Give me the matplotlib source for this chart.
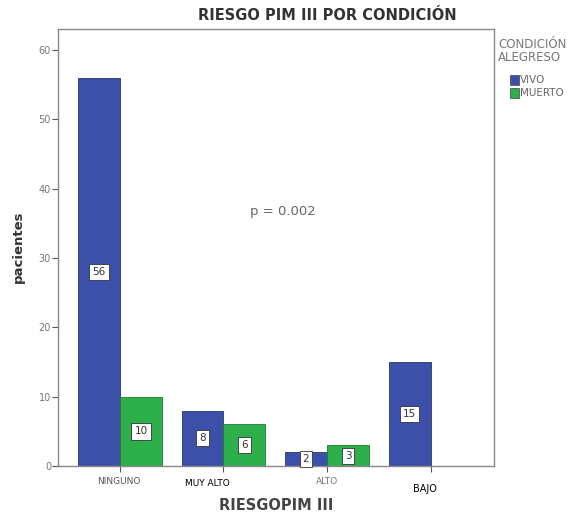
import matplotlib.pyplot as plt
import numpy as np

# patients by PIM III risk and discharge condition
categorias = ['NINGUNO', 'MUY ALTO', 'ALTO', 'BAJO']
vivo = [56, 8, 2, 15]
muerto = [10, 6, 3, 0]
ticks_y = [0, 10, 20, 30, 40, 50, 60]

azul = '#3c50aa'
verde = '#2db04b'
gris = '#555555'

fig = plt.figure(figsize=(5.81, 5.19), dpi=100)
ax = fig.add_axes([0.0998, 0.102, 0.750, 0.842])

x = np.arange(len(categorias))
w = 0.405
barras_v = ax.bar(x - w / 2, vivo, width=w, color=azul, edgecolor='#2a3570', linewidth=0.6)
barras_m = ax.bar(x + w / 2, muerto, width=w, color=verde, edgecolor='#1e7a34', linewidth=0.6)

# value boxes in the middle of each bar
for barras, vals in ((barras_v, vivo), (barras_m, muerto)):
    for b, v in zip(barras, vals):
        if v == 0:
            continue
        ax.text(b.get_x() + b.get_width() / 2, v / 2, str(v), ha='center', va='center',
                fontsize=7.5, color='#333333',
                bbox=dict(boxstyle='square,pad=0.3', fc='white', ec='#333333', lw=0.6))

ax.set_xlim(-0.598, 3.61)
ax.set_ylim(0, 63)
ax.set_yticks(ticks_y)
ax.set_yticklabels([str(t) for t in ticks_y], fontsize=7, color='#777777')
ax.tick_params(axis='y', length=4, width=0.8, color=gris, pad=1)
ax.set_xticks(x)
ax.set_xticklabels([])
ax.tick_params(axis='x', length=4, width=0.8, color=gris)
for s in ax.spines.values():
    s.set_color('#888888')
    s.set_linewidth(1.0)

# category names under the axis
fig.text(119 / 581, 1 - 481 / 519, 'NINGUNO', ha='center', va='center', fontsize=6.5, color='#555555')
fig.text(207 / 581, 1 - 484 / 519, 'MUY ALTO', ha='center', va='center', fontsize=6.5, color='black')
fig.text(327 / 581, 1 - 481 / 519, 'ALTO', ha='center', va='center', fontsize=6.5, color='#777777')
fig.text(425 / 581, 1 - 489 / 519, 'BAJO', ha='center', va='center', fontsize=7, color='black')

fig.text(276 / 581, 1 - 506 / 519, 'RIESGOPIM III', ha='center', va='center', fontsize=10.5,
         fontweight='bold', color='#444444')
fig.text(18 / 581, 1 - 247 / 519, 'pacientes', ha='center', va='center', rotation=90,
         fontsize=9.5, fontweight='bold', color='#333333')
fig.text(327 / 581, 1 - 16 / 519, 'RIESGO PIM III POR CONDICIÓN', ha='center', va='center',
         fontsize=10.5, fontweight='bold', color='#333333')

ax.text(283 / 581, 1 - 212 / 519, 'p = 0.002', transform=fig.transFigure, ha='center',
        va='center', fontsize=9.5, color='#666666')

# legend
fig.text(498 / 581, 1 - 51 / 519, 'CONDICIÓN\nALEGRESO', ha='left', va='center', fontsize=8.5,
         color='#777777', linespacing=0.95)
for yy, col, txt in ((80, azul, 'VIVO'), (93, verde, 'MUERTO')):
    fig.patches.append(plt.Rectangle((510 / 581, 1 - (yy + 5) / 519), 9 / 581, 10 / 519,
                                     transform=fig.transFigure, facecolor=col,
                                     edgecolor='#444444', linewidth=0.5))
    fig.text(520 / 581, 1 - yy / 519, txt, ha='left', va='center', fontsize=7.5, color='#666666')

fig.savefig('out.png', dpi=100, facecolor='white')
